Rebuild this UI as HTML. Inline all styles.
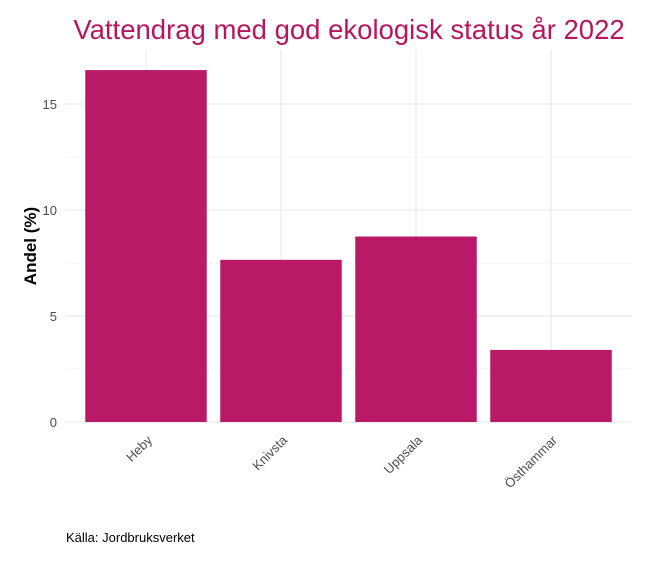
<!DOCTYPE html>
<html><head><meta charset="utf-8"><style>
body{margin:0;background:#fff;}
svg{display:block;font-family:"Liberation Sans",sans-serif;}
</style></head><body>
<svg id="chart" width="672" height="576" viewBox="0 0 672 576" xmlns="http://www.w3.org/2000/svg">
<rect x="0" y="0" width="672" height="576" fill="#fff"/>
<text x="349" y="39" text-anchor="middle" font-size="27.5" fill="#b5175f">Vattendrag med god ekologisk status år 2022</text>
<g id="grid"></g>
<g id="bars"></g>
<g id="yticks"></g>
<g id="xticks"></g>
<text transform="translate(36,246) rotate(-90)" text-anchor="middle" font-size="17" font-weight="bold" fill="#000">Andel (%)</text>
<text x="66" y="542" font-size="13" fill="#000">Källa: Jordbruksverket</text>
</svg>
<script>
const categories = ["Heby","Knivsta","Uppsala","Östhammar"];
const values = [16.6, 7.65, 8.75, 3.4];
const yTicks = [0,5,10,15];
const yMinor = [2.5,7.5,12.5];
const NS="http://www.w3.org/2000/svg";
const plotX0=65, plotX1=632, plotY0=422, pxPerUnit=21.2, plotTop=50;
const step=(plotX1-plotX0)/(categories.length+0.2);
function xc(i){return plotX0+step*(i+0.6);}
function yScale(v){return plotY0-v*pxPerUnit;}
function mk(tag,attrs,parent){const e=document.createElementNS(NS,tag);for(const k in attrs)e.setAttribute(k,attrs[k]);parent.appendChild(e);return e;}
const grid=document.getElementById('grid'),bars=document.getElementById('bars'),yt=document.getElementById('yticks'),xt=document.getElementById('xticks');
yMinor.forEach(v=>{const l=mk('line',{x1:plotX0,x2:plotX1,y1:yScale(v),y2:yScale(v),stroke:'#f3f3f3','stroke-width':1},grid);

});
yTicks.forEach(v=>{const l=mk('line',{x1:plotX0,x2:plotX1,y1:yScale(v),y2:yScale(v),stroke:'#ebebeb','stroke-width':1.3},grid);


const t=mk('text',{x:57,y:yScale(v)+5,'text-anchor':'end','font-size':13,fill:'#4d4d4d'},yt);t.textContent=v;

});
categories.forEach((c,i)=>{const l=mk('line',{x1:xc(i),x2:xc(i),y1:plotTop,y2:plotY0,stroke:'#ebebeb','stroke-width':1.3},grid);

});
categories.forEach((c,i)=>{const w=step*0.9;const r=mk('rect',{x:xc(i)-w/2,y:yScale(values[i]),width:w,height:plotY0-yScale(values[i]),fill:'#b91966'},bars);


const t=mk('text',{transform:`translate(${xc(i)+7},${plotY0+19}) rotate(-45)`,'text-anchor':'end','font-size':13,fill:'#4d4d4d'},xt);t.textContent=c;

});
</script>
</body></html>
